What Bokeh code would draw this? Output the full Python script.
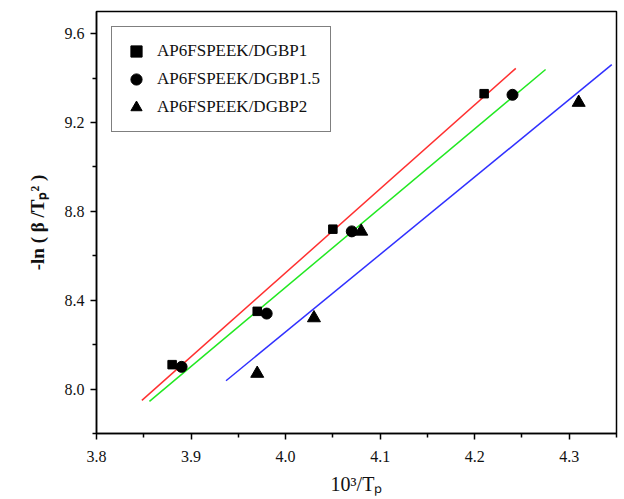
import numpy as np
from bokeh.plotting import figure
from bokeh.models import Range1d, FixedTicker, Legend, LegendItem
from bokeh.embed import file_html
from bokeh.resources import INLINE

# ---------------- data ----------------
series_names = ["AP6FSPEEK/DGBP1", "AP6FSPEEK/DGBP1.5", "AP6FSPEEK/DGBP2"]

x_dgbp1 = [3.88, 3.97, 4.05, 4.21]
y_dgbp1 = [8.11, 8.35, 8.72, 9.33]

x_dgbp15 = [3.89, 3.98, 4.07, 4.24]
y_dgbp15 = [8.10, 8.34, 8.71, 9.325]

x_dgbp2 = [3.97, 4.03, 4.08, 4.31]
y_dgbp2 = [8.07, 8.32, 8.71, 9.29]

# x extent over which each fitted line is drawn
fit_span_dgbp1 = [3.848, 4.2435]
fit_span_dgbp15 = [3.856, 4.275]
fit_span_dgbp2 = [3.937, 4.345]

x_ticks = [3.8, 3.9, 4.0, 4.1, 4.2, 4.3]
x_minor = [3.85, 3.95, 4.05, 4.15, 4.25, 4.35]
y_ticks = [8.0, 8.4, 8.8, 9.2, 9.6]
y_minor = [7.8, 8.2, 8.6, 9.0, 9.4]

x_title = "10³/Tₚ"
y_title = "-ln ( β /Tₚ² )"

# ---------------- layout ----------------
W, H = 624, 499
L, R, T, B = 96, 616, 11, 433
X0, X1, Y0, Y1 = 3.8, 4.35, 7.8, 9.7
SERIF = "Liberation Serif"

p = figure(width=W, height=H, output_backend="svg", toolbar_location=None,
           x_range=Range1d(X0, X1), y_range=Range1d(Y0, Y1),
           min_border_left=L, min_border_right=W - R,
           min_border_top=T, min_border_bottom=H - B)
p.xgrid.visible = False
p.ygrid.visible = False
p.outline_line_color = "black"
p.outline_line_width = 1.5
p.background_fill_color = "white"
p.border_fill_color = "white"

for ax in (p.xaxis[0], p.yaxis[0]):
    ax.axis_line_color = "black"
    ax.axis_line_width = 1.5
    ax.major_tick_line_color = "black"
    ax.major_tick_line_width = 1.5
    ax.minor_tick_line_color = "black"
    ax.minor_tick_line_width = 1.5
    ax.major_tick_in = 0
    ax.major_tick_out = 6
    ax.minor_tick_in = 0
    ax.minor_tick_out = 4
    ax.major_label_text_font = SERIF
    ax.major_label_text_font_size = "16px"
    ax.major_label_text_color = "#111111"
    ax.axis_label_text_font = SERIF
    ax.axis_label_text_color = "#111111"

p.xaxis.ticker = FixedTicker(ticks=x_ticks, minor_ticks=x_minor)
p.yaxis.ticker = FixedTicker(ticks=y_ticks, minor_ticks=y_minor)
p.xaxis.major_label_overrides = {t: f"{t:.1f}" for t in x_ticks}
p.yaxis.major_label_overrides = {t: f"{t:.1f}" for t in y_ticks}
p.xaxis.major_label_standoff = 11
p.yaxis.major_label_standoff = 6

p.xaxis.axis_label = x_title
p.xaxis.axis_label_text_font_size = "20px"
p.xaxis.axis_label_text_font_style = "normal"
p.xaxis.axis_label_standoff = 8

p.yaxis.axis_label = y_title
p.yaxis.axis_label_text_font_size = "19px"
p.yaxis.axis_label_text_font_style = "bold"
p.yaxis.axis_label_standoff = 14

# ---------------- fitted lines ----------------
line_colors = ["#ff3030", "#22e822", "#3030ff"]
for xs, ys, span, c in [(x_dgbp1, y_dgbp1, fit_span_dgbp1, line_colors[0]),
                        (x_dgbp15, y_dgbp15, fit_span_dgbp15, line_colors[1]),
                        (x_dgbp2, y_dgbp2, fit_span_dgbp2, line_colors[2])]:
    k, b = np.polyfit(xs, ys, 1)
    sx = np.array(span)
    p.line(sx, k * sx + b, line_color=c, line_width=1.5)

# ---------------- markers ----------------
r1 = p.scatter(x_dgbp1, y_dgbp1, marker="square", size=8.5, color="black")
r2 = p.scatter(x_dgbp15, y_dgbp15, marker="circle", size=11, color="black")
r3 = p.scatter(x_dgbp2, y_dgbp2, marker="triangle", size=13, color="black")

legend = Legend(items=[LegendItem(label=series_names[0], renderers=[r1]),
                       LegendItem(label=series_names[1], renderers=[r2]),
                       LegendItem(label=series_names[2], renderers=[r3])],
                location="top_left")
legend.margin = 15
legend.padding = 10
legend.spacing = 0
legend.label_height = 28
legend.glyph_height = 28
legend.glyph_width = 28
legend.label_standoff = 7
legend.label_text_font = SERIF
legend.label_text_font_size = "17px"
legend.label_text_color = "#111111"
legend.border_line_color = "black"
legend.border_line_width = 1.5
legend.background_fill_color = "white"
legend.background_fill_alpha = 1.0
p.add_layout(legend)

open("out.html", "w").write(file_html(p, INLINE))
